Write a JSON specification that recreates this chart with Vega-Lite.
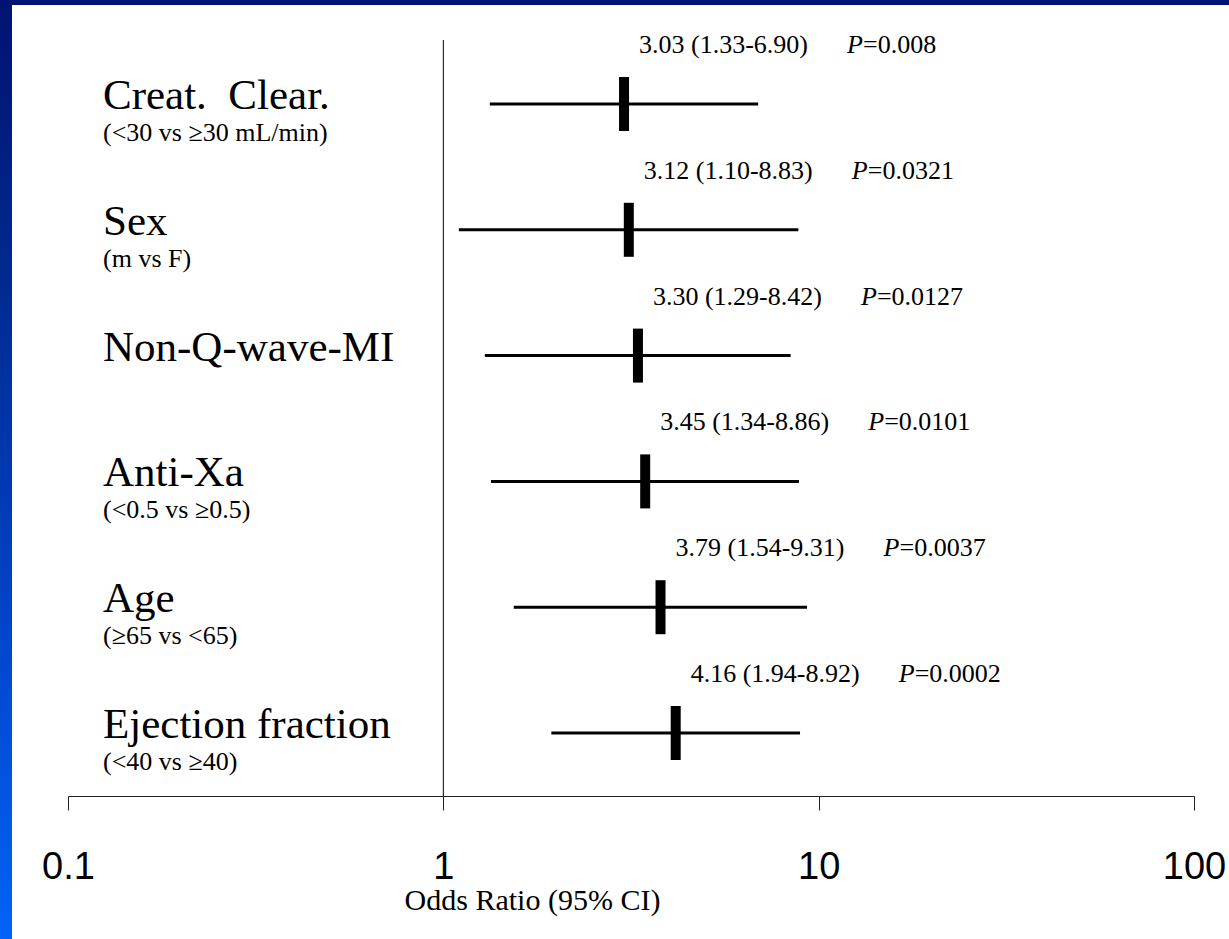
{
  "$schema": "https://vega.github.io/schema/vega-lite/v6.json",
  "description": "Multivariate odds ratios with 95% confidence intervals, log scale.",
  "autosize": {"type": "none"},
  "width": 1241,
  "height": 958,
  "padding": {"left": 0, "top": -7, "right": -12, "bottom": -12},
  "background": "#ffffff",
  "config": {
    "view": {
      "fill": "#ffffff",
      "strokeWidth": 24,
      "stroke": {
        "gradient": "linear",
        "x1": 0, "y1": 0, "x2": 0, "y2": 1,
        "stops": [
          {"offset": 0, "color": "#001270"},
          {"offset": 0.3, "color": "#002a90"},
          {"offset": 0.65, "color": "#0044c8"},
          {"offset": 1, "color": "#0064f8"}
        ]
      }
    },
    "axis": {
      "grid": false,
      "labelFont": "Liberation Sans, Arial, sans-serif",
      "labelFontSize": 38,
      "labelColor": "#000000",
      "labelBaseline": "alphabetic",
      "labelPadding": 68,
      "labelFlush": false,
      "labelOverlap": false,
      "domainColor": "#222222",
      "domainWidth": 1,
      "tickColor": "#222222",
      "tickWidth": 1,
      "tickSize": 14,
      "titleFont": "Liberation Serif, Times New Roman, serif",
      "titleFontSize": 30,
      "titleFontWeight": "normal",
      "titleColor": "#000000"
    }
  },
  "data": {
    "values": [
      {"factor": "Creat.\u00a0 Clear.", "note": "(<30 vs \u226530 mL/min)", "or": 3.03, "lo": 1.33, "hi": 6.90, "p": "0.008"},
      {"factor": "Sex", "note": "(m vs F)", "or": 3.12, "lo": 1.10, "hi": 8.83, "p": "0.0321"},
      {"factor": "Non-Q-wave-MI", "note": "", "or": 3.30, "lo": 1.29, "hi": 8.42, "p": "0.0127"},
      {"factor": "Anti-Xa", "note": "(<0.5 vs \u22650.5)", "or": 3.45, "lo": 1.34, "hi": 8.86, "p": "0.0101"},
      {"factor": "Age", "note": "(\u226565 vs <65)", "or": 3.79, "lo": 1.54, "hi": 9.31, "p": "0.0037"},
      {"factor": "Ejection fraction", "note": "(<40 vs \u226540)", "or": 4.16, "lo": 1.94, "hi": 8.92, "p": "0.0002"}
    ]
  },
  "resolve": {"scale": {"y": "independent"}},
  "layer": [
    {
      "data": {"values": [{"ref": 1}]},
      "mark": {"type": "rule", "color": "#000000", "strokeWidth": 1},
      "encoding": {
        "x": {
          "field": "ref", "type": "quantitative",
          "scale": {"type": "log", "domain": [0.1, 100], "range": [68, 1194], "nice": false},
          "axis": {
            "values": [0.1, 1, 10, 100],
            "format": "~g",
            "offset": -155,
            "title": "Odds Ratio (95% CI)",
            "titleX": 532,
            "titleY": 113,
            "titleAlign": "center",
            "titleBaseline": "alphabetic",
            "titleAnchor": null
          }
        },
        "y": {"datum": 0, "type": "quantitative", "scale": {"domain": [0, 1], "range": [803, 47], "nice": false, "zero": false}, "axis": null},
        "y2": {"datum": 1}
      }
    },
    {
      "transform": [
        {"calculate": "format(datum.or, '.2f') + ' (' + format(datum.lo, '.2f') + '-' + format(datum.hi, '.2f') + ')'", "as": "ci_text"},
        {"calculate": "'=' + datum.p", "as": "p_text"}
      ],
      "encoding": {
        "y": {"field": "factor", "type": "nominal", "sort": null, "scale": {"type": "point", "range": [111, 740], "padding": 0}, "axis": null}
      },
      "layer": [
        {
          "mark": {"type": "rule", "color": "#000000", "strokeWidth": 3},
          "encoding": {
            "x": {"field": "lo", "type": "quantitative", "title": "Odds Ratio (95% CI)", "scale": {"type": "log", "domain": [0.1, 100], "range": [68, 1194], "nice": false}},
            "x2": {"field": "hi"}
          }
        },
        {
          "mark": {"type": "tick", "color": "#000000", "opacity": 1, "thickness": 10, "size": 54},
          "encoding": {
            "x": {"field": "or", "type": "quantitative", "title": "Odds Ratio (95% CI)", "scale": {"type": "log", "domain": [0.1, 100], "range": [68, 1194], "nice": false}}
          }
        },
        {
          "mark": {"type": "text", "font": "Liberation Serif, Times New Roman, serif", "fontSize": 43, "align": "left", "baseline": "alphabetic", "dx": 35, "dy": 5, "color": "#000000"},
          "encoding": {
            "x": {"datum": 0.1, "type": "quantitative", "title": "Odds Ratio (95% CI)", "scale": {"type": "log", "domain": [0.1, 100], "range": [68, 1194], "nice": false}},
            "text": {"field": "factor"}
          }
        },
        {
          "mark": {"type": "text", "font": "Liberation Serif, Times New Roman, serif", "fontSize": 26, "align": "left", "baseline": "alphabetic", "dx": 35, "dy": 37, "color": "#000000"},
          "encoding": {
            "x": {"datum": 0.1, "type": "quantitative", "title": "Odds Ratio (95% CI)", "scale": {"type": "log", "domain": [0.1, 100], "range": [68, 1194], "nice": false}},
            "text": {"field": "note"}
          }
        },
        {
          "mark": {"type": "text", "font": "Liberation Serif, Times New Roman, serif", "fontSize": 26, "align": "left", "baseline": "middle", "dx": 15, "dy": -59, "color": "#000000"},
          "encoding": {
            "x": {"field": "or", "type": "quantitative", "title": "Odds Ratio (95% CI)", "scale": {"type": "log", "domain": [0.1, 100], "range": [68, 1194], "nice": false}},
            "text": {"field": "ci_text"}
          }
        },
        {
          "mark": {"type": "text", "font": "Liberation Serif, Times New Roman, serif", "fontSize": 26, "fontStyle": "italic", "align": "left", "baseline": "middle", "dx": 223, "dy": -59, "color": "#000000"},
          "encoding": {
            "x": {"field": "or", "type": "quantitative", "title": "Odds Ratio (95% CI)", "scale": {"type": "log", "domain": [0.1, 100], "range": [68, 1194], "nice": false}},
            "text": {"value": "P"}
          }
        },
        {
          "mark": {"type": "text", "font": "Liberation Serif, Times New Roman, serif", "fontSize": 26, "align": "left", "baseline": "middle", "dx": 239, "dy": -59, "color": "#000000"},
          "encoding": {
            "x": {"field": "or", "type": "quantitative", "title": "Odds Ratio (95% CI)", "scale": {"type": "log", "domain": [0.1, 100], "range": [68, 1194], "nice": false}},
            "text": {"field": "p_text"}
          }
        }
      ]
    }
  ]
}
